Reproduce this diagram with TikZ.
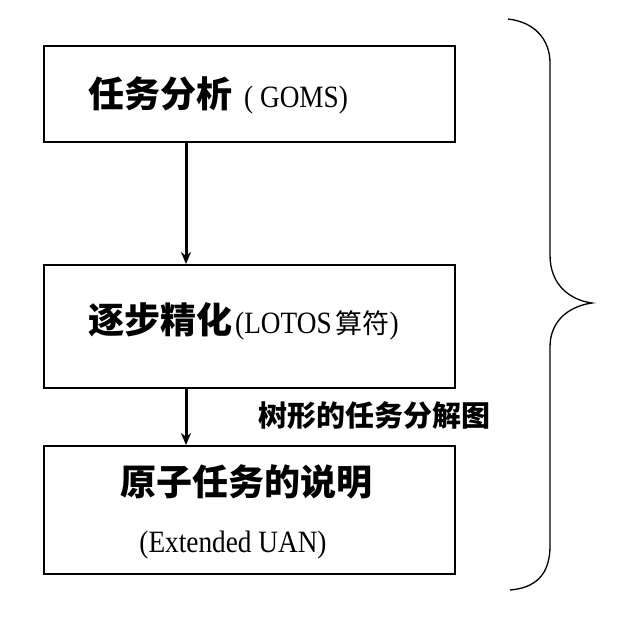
\documentclass[tikz,border=0pt]{standalone}
\usepackage{fontspec}
\newfontfamily\cjk{Noto Sans CJK SC}
\newfontfamily\narrowserif[FakeStretch=0.88]{Liberation Serif}
\usetikzlibrary{arrows.meta, positioning}
\newcommand{\latpart}[1]{{\narrowserif\mdseries\fontsize{31}{34}\selectfont #1}}
\tikzset{
  taskbox/.style={draw, line width=2pt, minimum width=411pt, inner sep=0pt},
  maintext/.style={font=\cjk\bfseries\fontsize{36}{40}\selectfont, inner sep=0pt, anchor=west},
  subtext/.style={font=\narrowserif\fontsize{31}{34}\selectfont, inner sep=0pt},
  treelabel/.style={font=\cjk\bfseries\fontsize{29}{32}\selectfont, inner sep=0pt, anchor=west},
  steparrow/.style={-{Stealth[length=12pt,width=10pt]}, line width=3pt},
  bracepath/.style={line width=1.3pt},
}

\begin{document}
\begin{tikzpicture}[x=1pt, y=-1pt]
  \useasboundingbox (0,0) rectangle (632,622);
  % the three stages
  \node[taskbox, minimum height=96pt] (goms) at (249.5,94) {};
  \node[taskbox, minimum height=123pt] (refine) at (249.5,326.5) {};
  \node[taskbox, minimum height=128pt] (atomic) at (249.5,510) {};
  \node[maintext] (gomstxt) at (88,95) {任务分析\hspace{12pt}\latpart{( GOMS)}};
  \node[maintext] (refinetxt) at (88,321) {逐步精化\hspace{3pt}\latpart{(LOTOS\hspace{4pt}{\cjk\fontsize{27}{30}\selectfont 算符})}};
  \node[maintext, anchor=center] (atomictxt) at (246,482) {原子任务的说明};
  \node[subtext] (uantxt) at (233,545) {(Extended UAN)};
  \node[treelabel] (treelbl) at (258,416) {树形的任务分解图};
  \draw[steparrow] ([xshift=-63.5pt]goms.south) -- ([xshift=-63.5pt]refine.north);
  \draw[steparrow] ([xshift=-63.5pt]refine.south) -- ([xshift=-63.5pt]atomic.north);
  % brace on the right
  \draw[bracepath] (508,19) .. controls (535,22) and (550,40) .. (550,63) -- (550,255)
    .. controls (550,285) and (570,300) .. (592,303)
    .. controls (570,306) and (550,320) .. (550,347) -- (550,546)
    .. controls (550,575) and (535,588) .. (510,590);
\end{tikzpicture}
\end{document}
